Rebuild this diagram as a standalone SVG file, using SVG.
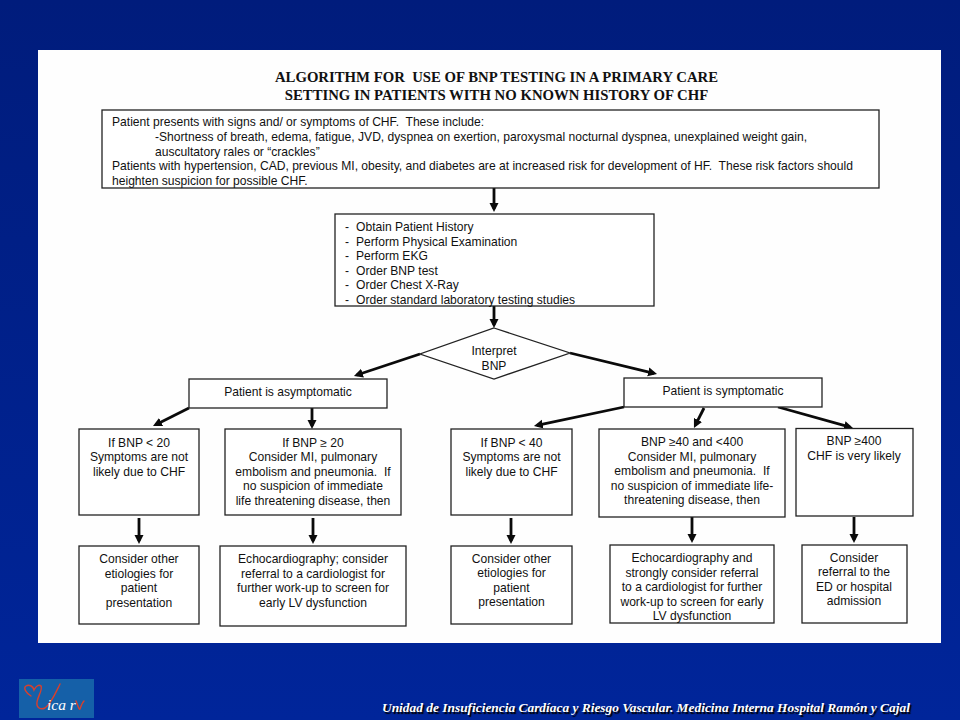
<svg xmlns="http://www.w3.org/2000/svg" width="960" height="720" viewBox="0 0 960 720">
<style>
text{font-family:"Liberation Sans",Arial,sans-serif;font-size:12.1px;fill:#111;white-space:pre}
.c{text-anchor:middle}
.t{font-family:"Liberation Serif","Times New Roman",serif;font-weight:bold;font-size:14.75px;text-anchor:middle;fill:#111}
.f{font-family:"Liberation Serif","Times New Roman",serif;font-weight:bold;font-style:italic;font-size:13.4px;fill:#fff;text-shadow:1.5px 1.5px 1px #000}
.b{fill:#fff;stroke:#222;stroke-width:1.3}
.a{fill:none;stroke:#0a0a0a;stroke-width:2.8;marker-end:url(#h)}
.l{fill:none;stroke:#d8402c;stroke-width:1.4;stroke-linecap:round}
</style>
<defs>
<linearGradient id="bg" x1="0" y1="0" x2="0" y2="1"><stop offset="0" stop-color="#001c7c"/><stop offset="1" stop-color="#00259a"/></linearGradient>
<marker id="h" markerUnits="userSpaceOnUse" markerWidth="10" markerHeight="10" refX="6" refY="5" orient="auto"><path d="M0 .5 L9 5 L0 9.500 Z" fill="#0a0a0a"/></marker>
</defs>
<rect width="960" height="720" fill="url(#bg)"/>
<rect x="38" y="50" width="903" height="593" fill="#fefefe"/>
<text class="t" x="496.500" y="82">ALGORITHM FOR  USE OF BNP TESTING IN A PRIMARY CARE</text>
<text class="t" x="496.500" y="100">SETTING IN PATIENTS WITH NO KNOWN HISTORY OF CHF</text>
<g id="connectors">
<path class="a" d="M494 188V209"/>
<path class="a" d="M494 306V325"/>
<path class="a" d="M420 354L356.8 375"/>
<path class="a" d="M570 353L654.1 373.3"/>
<path class="a" d="M189 408L155.7 424.7"/>
<path class="a" d="M312 408V426"/>
<path class="a" d="M139 518V541"/>
<path class="a" d="M313 518V541"/>
<path class="a" d="M624 407L536.9 425.4"/>
<path class="a" d="M704 408L695.3 425.3"/>
<path class="a" d="M778 407L850.1 427.2"/>
<path class="a" d="M511 518V541"/>
<path class="a" d="M692 517V540"/>
<path class="a" d="M854 517V540"/>
</g>
<g id="n1"><rect class="b" x="102" y="110" width="777" height="78"/>
<text x="112" y="126">Patient presents with signs and/ or symptoms of CHF.  These include:</text>
<text x="155" y="141">-Shortness of breath, edema, fatigue, JVD, dyspnea on exertion, paroxysmal nocturnal dyspnea, unexplained weight gain,</text>
<text x="155" y="156">auscultatory rales or “crackles”</text>
<text x="112" y="170">Patients with hypertension, CAD, previous MI, obesity, and diabetes are at increased risk for development of HF.  These risk factors should</text>
<text x="112" y="185">heighten suspicion for possible CHF.</text></g>
<g id="n2"><rect class="b" x="335" y="214" width="319" height="92"/>
<text x="345" y="231">-</text><text x="356" y="231">Obtain Patient History</text>
<text x="345" y="245.500">-</text><text x="356" y="245.500">Perform Physical Examination</text>
<text x="345" y="260">-</text><text x="356" y="260">Perform EKG</text>
<text x="345" y="274.500">-</text><text x="356" y="274.500">Order BNP test</text>
<text x="345" y="289">-</text><text x="356" y="289">Order Chest X-Ray</text>
<text x="345" y="303.500">-</text><text x="356" y="303.500">Order standard laboratory testing studies</text></g>
<g id="n3"><path class="b" d="M494 328L570 353L494 379L420 354Z"/>
<text class="c" x="494" y="355">Interpret</text><text class="c" x="494" y="369.500">BNP</text></g>
<g id="n4"><rect class="b" x="189" y="379" width="198" height="29"/><text class="c" x="288" y="395.500">Patient is asymptomatic</text></g>
<g id="n5"><rect class="b" x="624" y="378" width="198" height="29"/><text class="c" x="723" y="395">Patient is symptomatic</text></g>
<g id="n6"><rect class="b" x="79" y="429" width="120" height="86"/>
<text class="c" x="139" y="446.500">If BNP &lt; 20</text><text class="c" x="139" y="461">Symptoms are not</text><text class="c" x="139" y="475.500">likely due to CHF</text></g>
<g id="n7"><rect class="b" x="225" y="429" width="176" height="86"/>
<text class="c" x="313" y="446.500">If BNP ≥ 20</text><text class="c" x="313" y="461">Consider MI, pulmonary</text><text class="c" x="313" y="475.500">embolism and pneumonia.  If</text><text class="c" x="313" y="490">no suspicion of immediate</text><text class="c" x="313" y="505">life threatening disease, then</text></g>
<g id="n8"><rect class="b" x="451" y="429" width="121" height="86"/>
<text class="c" x="511.500" y="446.500">If BNP &lt; 40</text><text class="c" x="511.500" y="461">Symptoms are not</text><text class="c" x="511.500" y="475.500">likely due to CHF</text></g>
<g id="n9"><rect class="b" x="599" y="429" width="186" height="88"/>
<text class="c" x="692" y="446">BNP ≥40 and &lt;400</text><text class="c" x="692" y="460.500">Consider MI, pulmonary</text><text class="c" x="692" y="475">embolism and pneumonia.  If</text><text class="c" x="692" y="490">no suspicion of immediate life-</text><text class="c" x="692" y="504">threatening disease, then</text></g>
<g id="n10"><rect class="b" x="796" y="428.500" width="117" height="87.500"/>
<text class="c" x="854" y="445">BNP ≥400</text><text class="c" x="854" y="460">CHF is very likely</text></g>
<g id="n11"><rect class="b" x="79" y="546" width="120" height="78"/>
<text class="c" x="139" y="563">Consider other</text><text class="c" x="139" y="577.500">etiologies for</text><text class="c" x="139" y="592">patient</text><text class="c" x="139" y="607">presentation</text></g>
<g id="n12"><rect class="b" x="220" y="546" width="186" height="80"/>
<text class="c" x="313" y="563">Echocardiography; consider</text><text class="c" x="313" y="577.500">referral to a cardiologist for</text><text class="c" x="313" y="592">further work-up to screen for</text><text class="c" x="313" y="607">early LV dysfunction</text></g>
<g id="n13"><rect class="b" x="451" y="546" width="121" height="78"/>
<text class="c" x="511.500" y="562.500">Consider other</text><text class="c" x="511.500" y="577">etiologies for</text><text class="c" x="511.500" y="592">patient</text><text class="c" x="511.500" y="606">presentation</text></g>
<g id="n14"><rect class="b" x="610" y="545" width="164" height="78"/>
<text class="c" x="692" y="562">Echocardiography and</text><text class="c" x="692" y="577">strongly consider referral</text><text class="c" x="692" y="591">to a cardiologist for further</text><text class="c" x="692" y="606">work-up to screen for early</text><text class="c" x="692" y="620">LV dysfunction</text></g>
<g id="n15"><rect class="b" x="802" y="545" width="105" height="78"/>
<text class="c" x="854" y="562">Consider</text><text class="c" x="854" y="576">referral to the</text><text class="c" x="854" y="591">ED or hospital</text><text class="c" x="854" y="605">admission</text></g>
<g id="logo"><rect x="19" y="679" width="75" height="39" fill="#1560a8"/>
<path class="l" d="M31 696C26 693 23 688 26 686C29 684 33 686 34 690C36 686 39 684 41 686C43 689 38 696 37 702C36 708 41 710 45 708C51 704 56 692 60 684"/>
<path class="l" d="M76 701C78 706 79 710 80 709C81 706 82 703 84 701"/>
<text x="47" y="710" style="font-family:'Liberation Serif',serif;font-style:italic;font-size:15.5px;fill:#fff">ica r</text></g>
<text class="f" x="382" y="712">Unidad de Insuficiencia Cardíaca y Riesgo Vascular. Medicina Interna Hospital Ramón y Cajal</text>
</svg>
